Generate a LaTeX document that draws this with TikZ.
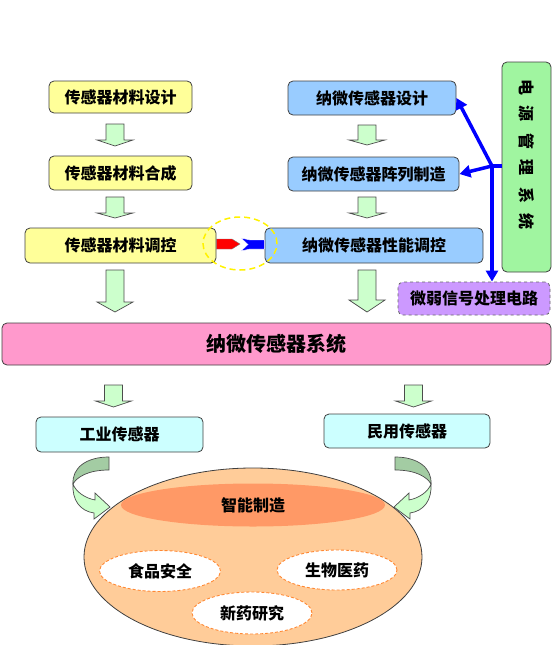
\documentclass[tikz,border=0pt]{standalone}
\usepackage{fontspec}
\newfontfamily\cjk{Noto Sans CJK SC}
\usetikzlibrary{shapes.geometric,arrows.meta}
\definecolor{yelc}{HTML}{FFFF99}
\definecolor{bluc}{HTML}{99CCFF}
\definecolor{grnc}{HTML}{A0F5A0}
\definecolor{pinkc}{HTML}{FF99CC}
\definecolor{purc}{HTML}{CC99FF}
\definecolor{cyanc}{HTML}{CCFFFF}
\definecolor{arrc}{HTML}{CCFFCC}
\definecolor{darkarrc}{HTML}{A3CCA3}
\definecolor{peachc}{HTML}{FFCC99}
\definecolor{innerc}{HTML}{FF9966}
\definecolor{dashc}{HTML}{FF8833}
\newcommand{\cjkfont}[1]{\cjk\bfseries\fontsize{#1}{#1}\selectfont}
\tikzset{
  box/.style={draw=black!75, rounded corners=5pt, line width=0.8pt, inner sep=0pt,
    font=\cjkfont{16}},
  blkarrow/.style={fill=arrc, draw=black!70, line width=0.7pt, line join=miter},
  blueline/.style={draw=blue, line width=3.5pt},
  bluearr/.style={blueline, -{Triangle[length=11pt,width=12pt]}},
  subell/.style={ellipse, fill=white, draw=dashc, line width=0.9pt, inner sep=0pt,
    font=\cjkfont{16}, dash pattern=on 3pt off 2pt}
}
\newcommand{\dnarrow}[4]{% cx, top, headstart, tip
  \filldraw[blkarrow] (#1-9,#2) -- (#1+9,#2) -- (#1+9,#3) -- (#1+18,#3) -- (#1,#4)
    -- (#1-18,#3) -- (#1-9,#3) -- cycle;}
\newcommand{\mycurvarrow}{%
  \filldraw[fill=darkarrc, draw=black!70, line width=0.7pt]
    (109,457) .. controls (86,457) and (72,468) .. (73,484)
    .. controls (77,477) and (88,470) .. (109,470) -- cycle;
  \filldraw[fill=arrc, draw=black!70, line width=0.7pt]
    (73,484) .. controls (72,500) and (80,511) .. (94,513)
    -- (94,519) -- (110,507) -- (95,493) -- (95,500)
    .. controls (85,498) and (76,492) .. (73,484) -- cycle;}
\begin{document}
\begin{tikzpicture}[x=1pt,y=-1pt]
\useasboundingbox (0,0) rectangle (553,645);

% left column
\node[box, fill=yelc, minimum width=143pt, minimum height=32pt] (L1) at (120.5,97) {传感器材料设计};
\node[box, fill=yelc, minimum width=143pt, minimum height=34pt] (L2) at (120.5,173) {传感器材料合成};
\node[box, fill=yelc, minimum width=191pt, minimum height=35pt] (L3) at (120.5,245.5) {传感器材料调控};

% right column
\node[box, fill=bluc, minimum width=168pt, minimum height=34pt] (R1) at (372,98) {纳微传感器设计};
\node[box, fill=bluc, minimum width=171pt, minimum height=34pt] (R2) at (373.5,174) {纳微传感器阵列制造};
\node[box, fill=bluc, minimum width=218pt, minimum height=35pt] (R3) at (374,245.5) {纳微传感器性能调控};

% power management
\node[box, fill=grnc, minimum width=49pt, minimum height=210pt] (G) at (526.5,167) {};
\node[font=\cjkfont{16}, rotate=-90, inner sep=0pt] (GT) at (527,154.5)
  {电\hspace{11pt}源\hspace{11pt}管\hspace{11pt}理\hspace{11pt}系\hspace{11pt}统};

% weak signal circuit
\node[box, fill=purc, dashed, draw=black!60, minimum width=152pt, minimum height=33pt] (P) at (474,298.5) {微弱信号处理电路};

% system
\node[box, fill=pinkc, minimum width=549pt, minimum height=42pt, font=\cjkfont{20}] (S) at (276.5,344) {纳微传感器系统};

% applications
\node[box, fill=cyanc, minimum width=167pt, minimum height=35pt] (C1) at (119.5,434.5) {工业传感器};
\node[box, fill=cyanc, minimum width=166pt, minimum height=34pt] (C2) at (407,431) {民用传感器};

% block arrows
\dnarrow{115}{124}{140}{146}
\dnarrow{115}{197}{213}{218}
\dnarrow{115}{270}{302}{312}
\dnarrow{367}{125}{140}{145}
\dnarrow{367}{197}{213}{218}
\dnarrow{367}{270}{300}{312}
\dnarrow{113.5}{385}{401}{407}
\dnarrow{413.5}{385}{401}{407}

% blue connectors
\coordinate (J) at (492,166);
\draw[blueline] (G.west |- J) -- (J);
\draw[bluearr] (J) -- (R1.east);
\draw[bluearr] (J) -- (R2.east);
\draw[bluearr] (J) -- (J |- P.north);

% red / blue coupling
\filldraw[fill=red, draw=black!50, line width=0.4pt] (L3.east |- 0,239) -- (232,239) -- (240,244) -- (232,249) -- (L3.east |- 0,249) -- cycle;
\filldraw[fill=blue, draw=white, line width=0.4pt] (241,238) -- (250,240) -- (R3.west |- 0,240) -- (R3.west |- 0,249) -- (250,249) -- (241,251) -- (248,244.5) -- cycle;
\node[ellipse, draw=yellow, line width=1.5pt, dash pattern=on 6pt off 4pt, minimum width=74pt, minimum height=53pt] (Y) at (240,243.5) {};

% curved arrows
\mycurvarrow
\begin{scope}[shift={(504,0)}, xscale=-1]
\mycurvarrow
\end{scope}

% big application ellipse
\node[ellipse, fill=peachc, draw=black!75, line width=0.8pt, minimum width=338pt, minimum height=178pt] (E) at (253,557) {};
\node[ellipse, fill=innerc, inner sep=0pt, minimum width=264pt, minimum height=43pt, font=\cjkfont{16}] (M) at (253,505) {智能制造};
\node[subell, minimum width=121pt, minimum height=41pt] (F1) at (160,571) {食品安全};
\node[subell, minimum width=120pt, minimum height=40pt] (F2) at (337,570) {生物医药};
\node[subell, minimum width=120pt, minimum height=42pt] (F3) at (252,613) {新药研究};
\end{tikzpicture}
\end{document}
